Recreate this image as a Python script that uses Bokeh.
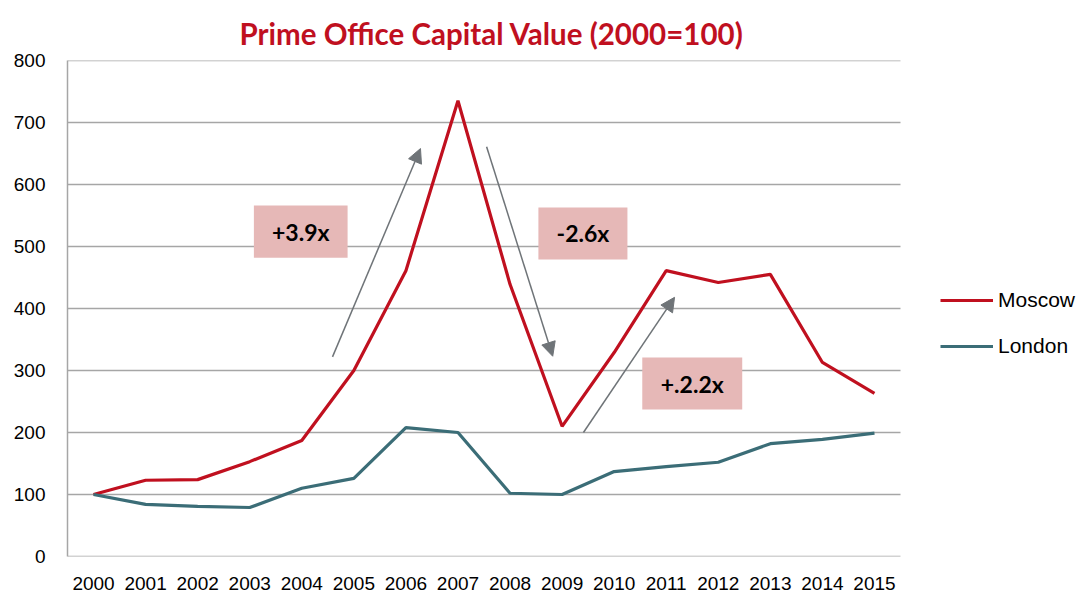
from bokeh.plotting import figure
from bokeh.models import Arrow, NormalHead, Legend, LegendItem, Range1d, FixedTicker
from bokeh.core.properties import value
from bokeh.embed import file_html
from bokeh.resources import INLINE

years = list(range(2000, 2016))
moscow = [100, 123, 124, 153, 187, 300, 461, 735, 439, 210, 329, 461, 442, 455, 313, 263]
london = [100, 84, 81, 79, 110, 126, 208, 200, 102, 100, 137, 145, 152, 182, 189, 199]
y_ticks = [0, 100, 200, 300, 400, 500, 600, 700, 800]

labels = ["+3.9x", "-2.6x", "+.2.2x"]
label_x = [2003.98, 2009.40, 2011.50]
label_y = [524, 521, 279]
label_w = [1.80, 1.71, 1.92]
label_h = [84, 84, 84]

arrows = [((2004.59, 322), (2006.28, 658)),
          ((2007.55, 661), (2008.82, 323)),
          ((2009.41, 200), (2011.16, 418))]

RED = "#c0101f"
TEAL = "#3b6d77"
GRID = "#a6a6a6"
TICK_FONT = "Liberation Sans"

# plot area: 833 px for 16 year slots; frame is extended to the right edge for the legend
X0, X1 = 1999.5, 2015.5
FRAME_W = 1081 - 67
x_end = X0 + FRAME_W * (X1 - X0) / 833.0

p = figure(width=1081, height=597, output_backend="svg", toolbar_location=None,
           x_range=Range1d(X0, x_end), y_range=Range1d(0, 800),
           min_border_left=67, min_border_right=0, min_border_top=60, min_border_bottom=41)
p.outline_line_color = None

p.title.text = "Prime Office Capital Value (2000=100)"
p.title.align = "left"
p.title.offset = 172
p.title.text_font = "Lato"
p.title.text_font_style = "bold"
p.title.text_font_size = "29.5px"
p.title.text_color = RED
p.title.standoff = 20

# horizontal gridlines limited to the plotting area
p.segment(x0=[X0] * len(y_ticks), x1=[X1] * len(y_ticks), y0=y_ticks, y1=y_ticks,
          line_color=GRID, line_width=1.5)

# boxes and labels
p.rect(x=label_x, y=label_y, width=label_w, height=label_h, fill_color="#e6b8b7",
       line_color=None)
p.text(x=label_x, y=label_y, text=labels, text_align="center", text_baseline="middle",
       text_font=value("Lato"), text_font_style="bold", text_font_size="23px",
       text_color="black")

for (x0, y0), (x1, y1) in arrows:
    p.add_layout(Arrow(x_start=x0, y_start=y0, x_end=x1, y_end=y1,
                       line_color="#6f7478", line_width=1.5,
                       end=NormalHead(size=14, fill_color="#6f7478", line_color="#6f7478")))

r1 = p.line(years, moscow, line_color=RED, line_width=3.2)
r2 = p.line(years, london, line_color=TEAL, line_width=3.2)

p.xaxis.ticker = FixedTicker(ticks=years)
p.yaxis.ticker = FixedTicker(ticks=y_ticks)
for ax in (p.xaxis, p.yaxis):
    ax.major_tick_line_color = None
    ax.minor_tick_line_color = None
    ax.axis_line_color = GRID
    ax.axis_line_width = 1.5
    ax.major_label_text_font = TICK_FONT
    ax.major_label_text_font_size = "19px"
    ax.major_label_text_color = "black"
p.xaxis.axis_line_color = None
p.xaxis.major_label_standoff = 14
p.yaxis.major_label_standoff = 16

p.xgrid.grid_line_color = None
p.ygrid.grid_line_color = None

legend = Legend(items=[LegendItem(label="Moscow", renderers=[r1]),
                       LegendItem(label="London", renderers=[r2])],
                location=(873, 198), padding=0, margin=0, spacing=22,
                glyph_width=53, label_standoff=5,
                label_text_font="Liberation Sans", label_text_font_size="21px",
                label_text_color="black",
                border_line_color=None, background_fill_alpha=0)
p.add_layout(legend)

open("out.html", "w").write(file_html(p, INLINE))
